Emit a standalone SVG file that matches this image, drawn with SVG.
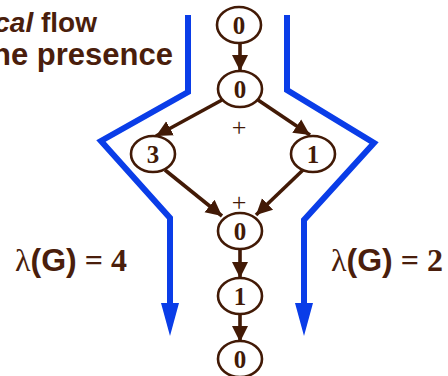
<svg xmlns="http://www.w3.org/2000/svg" width="448" height="376" viewBox="0 0 448 376">
<defs>
<style>
.node ellipse{fill:#fff;stroke:#421a06;stroke-width:2.6}
.node text{font-family:"Liberation Serif","Times New Roman",serif;font-weight:bold;font-size:25px;fill:#421a06;text-anchor:middle}
.edge{stroke:#421a06;stroke-width:3.6;fill:none}
.flow{stroke:#0a3de8;stroke-width:6;fill:none;stroke-linejoin:miter}
.head{fill:#0a3de8}
.title{font-family:"Liberation Sans",Arial,sans-serif;font-weight:bold;fill:#4a1e0c;text-anchor:end}
.lam{font-size:32px;fill:#4a1e0c;text-anchor:end}
.plus{font-family:"Liberation Serif","Times New Roman",serif;font-size:26px;fill:#421a06;text-anchor:middle}
</style>
<marker id="ah" viewBox="0 0 10 10" refX="10" refY="5" markerWidth="16" markerHeight="25" markerUnits="userSpaceOnUse" orient="auto">
<path d="M0,0 L10,5 L0,10 z" fill="#421a06"/>
</marker>
</defs>
<rect width="448" height="376" fill="#fff"/>
<text class="title" x="97" y="32" font-size="28"><tspan font-style="italic">cal</tspan> flow</text>
<text class="title" x="173" y="65" font-size="31">he presence</text>
<g id="flows">
<path class="flow" d="M188,15 V92 L101,141 L170,218 V305"/>
<polygon class="head" points="161,303 179,303 170,336"/>
<path class="flow" d="M287,15 V90 L374,143 L304,220 V305"/>
<polygon class="head" points="295,303 313,303 304,336"/>
</g>
<g id="connectors">
<line class="edge" x1="240" y1="43" x2="240" y2="71" marker-end="url(#ah)"/>
<line class="edge" x1="222" y1="100" x2="156" y2="136" marker-end="url(#ah)"/>
<line class="edge" x1="258" y1="100" x2="310" y2="135" marker-end="url(#ah)"/>
<line class="edge" x1="165" y1="170" x2="222" y2="216" marker-end="url(#ah)"/>
<line class="edge" x1="303" y1="170" x2="256" y2="215" marker-end="url(#ah)"/>
<line class="edge" x1="240" y1="249" x2="240" y2="278" marker-end="url(#ah)"/>
<line class="edge" x1="240" y1="314" x2="240" y2="342" marker-end="url(#ah)"/>
</g>
<g id="n0" class="node"><ellipse cx="239" cy="25" rx="22" ry="18"/><text x="239" y="33.5">0</text></g>
<g id="n1" class="node"><ellipse cx="240" cy="89" rx="22" ry="18"/><text x="240" y="97.5">0</text></g>
<g id="n2" class="node"><ellipse cx="153" cy="154" rx="22" ry="18"/><text x="153" y="162.5">3</text></g>
<g id="n3" class="node"><ellipse cx="313" cy="154" rx="22" ry="18"/><text x="313" y="162.5">1</text></g>
<g id="n4" class="node"><ellipse cx="240" cy="231" rx="22" ry="18"/><text x="240" y="239.5">0</text></g>
<g id="n5" class="node"><ellipse cx="240" cy="296" rx="22" ry="18"/><text x="240" y="304.5">1</text></g>
<g id="n6" class="node"><ellipse cx="240" cy="359" rx="22" ry="18"/><text x="240" y="367.5">0</text></g>
<text class="plus" x="239" y="136">+</text>
<text class="plus" x="239" y="211">+</text>
<text class="lam" x="127" y="271"><tspan font-family="Liberation Serif, serif">λ</tspan><tspan font-family="Liberation Sans, Arial, sans-serif" font-weight="bold">(G)</tspan><tspan font-family="Liberation Serif, serif" font-weight="bold"> = 4</tspan></text>
<text class="lam" x="443" y="271"><tspan font-family="Liberation Serif, serif">λ</tspan><tspan font-family="Liberation Sans, Arial, sans-serif" font-weight="bold">(G)</tspan><tspan font-family="Liberation Serif, serif" font-weight="bold"> = 2</tspan></text>
</svg>
